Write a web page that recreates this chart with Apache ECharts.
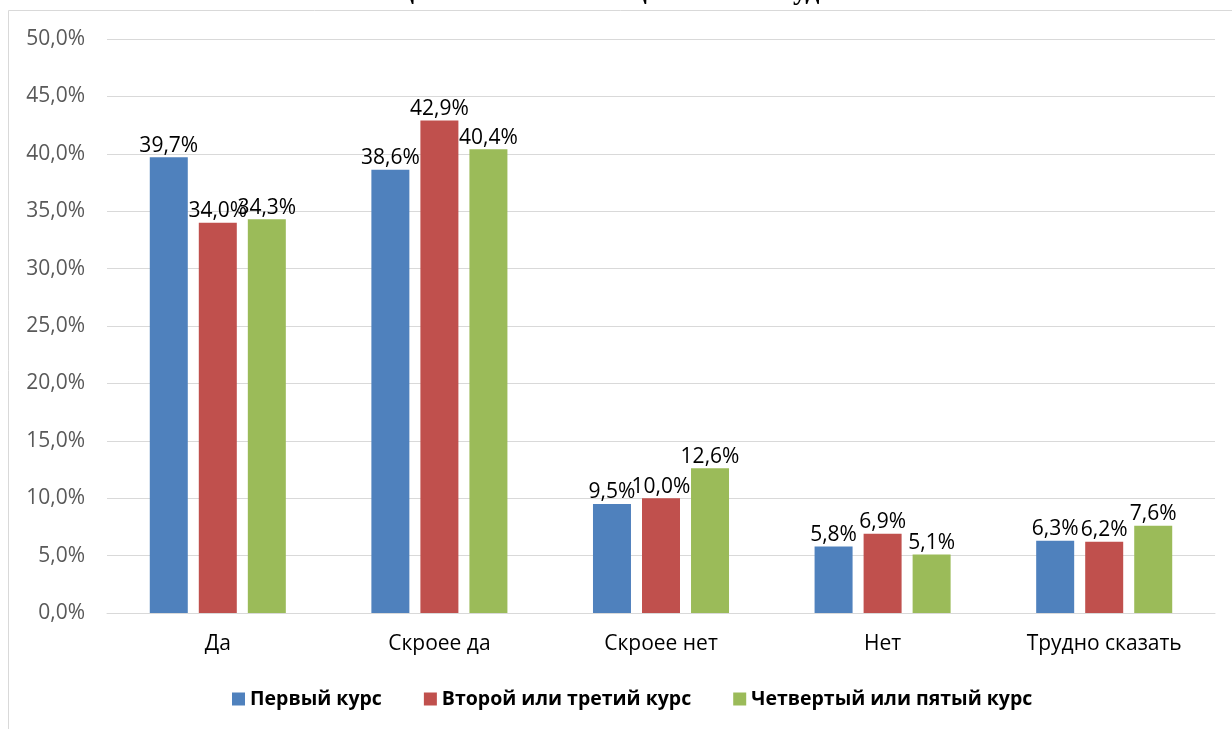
<!DOCTYPE html>
<html>
<head>
<meta charset="utf-8">
<script src="https://cdn.jsdelivr.net/npm/echarts@6/dist/echarts.min.js"></script>
<style>
  html, body { margin: 0; padding: 0; background: #fff; }
  #chart { width: 1232px; height: 729px; }
</style>
</head>
<body>
<div id="chart"></div>
<script>
// Answer categories
const categories = ['Да', 'Скроее да', 'Скроее нет', 'Нет', 'Трудно сказать'];
// Shares of students by year of study, %
const firstYear = [39.7, 38.6, 9.5, 5.8, 6.3];
const secondThirdYear = [34.0, 42.9, 10.0, 6.9, 6.2];
const fourthFifthYear = [34.3, 40.4, 12.6, 5.1, 7.6];
const seriesNames = ['Первый курс', 'Второй или третий курс', 'Четвертый или пятый курс'];
const titleText = 'Оценка жизненных ценностей студентов';

const colors = ['#4F81BD', '#C0504D', '#9BBB59'];
const fmt = v => v.toFixed(1).replace('.', ',') + '%';

const chart = echarts.init(document.getElementById('chart'), null, { renderer: 'canvas' });

const makeSeries = (name, data) => ({
  name: name,
  type: 'bar',
  data: data,
  barWidth: 38,
  barGap: '29%',
  label: {
    show: true,
    position: 'top',
    distance: 1,
    color: '#000',
    fontFamily: 'Open Sans',
    fontSize: 21,
    formatter: p => fmt(p.value)
  }
});

chart.setOption({
  animation: false,
  color: colors,
  graphic: [
    {
      type: 'rect',
      shape: { x: 8.5, y: 10.5, width: 1300, height: 800 },
      style: { fill: 'none', stroke: '#d9d9d9', lineWidth: 1 },
      silent: true
    },
    {
      type: 'text',
      x: 633,
      y: 6,
      style: {
        text: titleText,
        fill: '#000',
        font: 'bold 28px "Liberation Serif"',
        textAlign: 'center',
        textVerticalAlign: 'bottom'
      },
      silent: true
    }
  ],
  grid: { left: 107, right: 17, top: 39, bottom: 116 },
  legend: {
    top: 684,
    left: 227,
    itemWidth: 13,
    itemHeight: 13,
    itemGap: 42,
    icon: 'rect',
    textStyle: { fontFamily: 'Open Sans', fontWeight: 'bold', fontSize: 19.5, color: '#000' },
    data: seriesNames
  },
  xAxis: {
    type: 'category',
    data: categories,
    axisTick: { show: false },
    axisLine: { lineStyle: { color: '#d9d9d9' } },
    axisLabel: { color: '#000', fontFamily: 'Open Sans', fontSize: 21, margin: 21 }
  },
  yAxis: {
    type: 'value',
    min: 0,
    max: 50,
    interval: 5,
    axisLine: { show: false },
    axisTick: { show: false },
    splitLine: { lineStyle: { color: '#d9d9d9' } },
    axisLabel: { color: '#595959', fontFamily: 'Open Sans', fontSize: 21, margin: 22, formatter: fmt }
  },
  series: [
    makeSeries(seriesNames[0], firstYear),
    makeSeries(seriesNames[1], secondThirdYear),
    makeSeries(seriesNames[2], fourthFifthYear)
  ]
});
</script>
</body>
</html>
